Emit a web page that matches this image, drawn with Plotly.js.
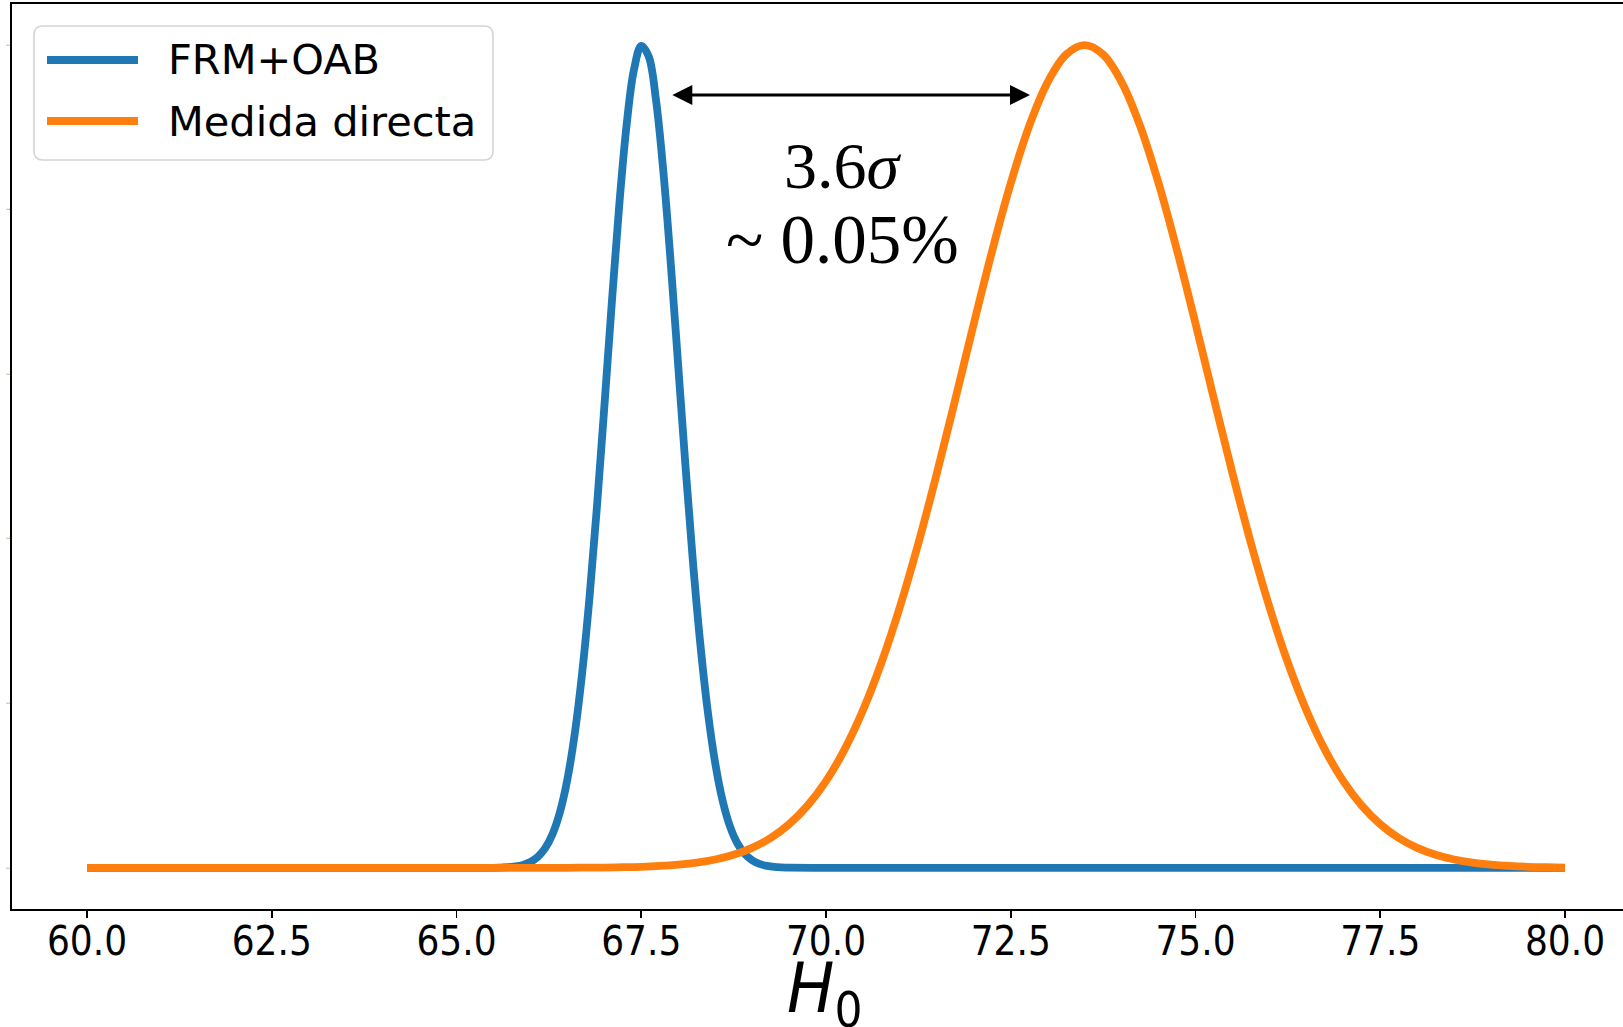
<!DOCTYPE html>
<html><head><meta charset="utf-8">
<script src="https://cdn.plot.ly/plotly-3.0.1.min.js"></script>
<style>html,body{margin:0;padding:0;background:#fff;} #chart{width:1623px;height:1027px;}</style>
</head><body><div id="chart"></div>
<script>
// ---------- data ----------
const seriesNames = ['FRM+OAB', 'Medida directa'];
const seriesColors = ['#1f77b4', '#ff7f0e'];

const frmX = [60, 65, 65.5,
  65.6, 65.7, 65.8, 65.9, 66.0, 66.1, 66.2, 66.3, 66.4, 66.5,
  66.6, 66.7, 66.8, 66.9, 67.0, 67.1, 67.2, 67.3, 67.4, 67.5,
  67.6, 67.7, 67.8, 67.9, 68.0, 68.1, 68.2, 68.3, 68.4, 68.5,
  68.6, 68.7, 68.8, 68.9, 69.0, 69.1, 69.2, 69.3, 69.4, 69.5,
  70, 80];
const frmY = [0, 0, 0.0001,
  0.0004, 0.0008, 0.0018, 0.0036, 0.0071, 0.0133, 0.0239, 0.0412, 0.0679, 0.1075,
  0.163, 0.2367, 0.329, 0.4386, 0.560, 0.685, 0.803, 0.9015, 0.9696, 0.9991,
  0.9864, 0.933, 0.8454, 0.7338, 0.6103, 0.4863, 0.3712, 0.2715, 0.1902, 0.1277,
  0.0821, 0.0506, 0.0299, 0.0169, 0.0092, 0.0048, 0.0024, 0.0011, 0.0005, 0.0002,
  0, 0];

const directX = [60, 62, 64, 65, 65.5, 66, 66.5, 67,
  67.25, 67.5, 67.75, 68, 68.25, 68.5, 68.75, 69, 69.25, 69.5, 69.75, 70,
  70.25, 70.5, 70.75, 71, 71.25, 71.5, 71.75, 72, 72.25, 72.5, 72.75, 73,
  73.25, 73.5, 73.75, 74, 74.25, 74.5, 74.75, 75, 75.25, 75.5, 75.75, 76,
  76.25, 76.5, 76.75, 77, 77.25, 77.5, 77.75, 78, 78.25, 78.5, 78.75, 79,
  79.25, 79.5, 79.75, 80];
const directY = [0, 0, 0, 0, 0, 0, 0.0001, 0.0004,
  0.0008, 0.0013, 0.0023, 0.0039, 0.0063, 0.0101, 0.0159, 0.0243, 0.0363, 0.0530, 0.0756, 0.1054,
  0.1437, 0.1915, 0.2494, 0.3173, 0.3946, 0.4797, 0.5698, 0.6615, 0.7505, 0.8322, 0.9019, 0.9551,
  0.9886, 1.0, 0.9886, 0.9551, 0.9019, 0.8322, 0.7505, 0.6615, 0.5698, 0.4797, 0.3946, 0.3173,
  0.2494, 0.1915, 0.1437, 0.1054, 0.0756, 0.0530, 0.0363, 0.0243, 0.0159, 0.0101, 0.0063, 0.0039,
  0.0023, 0.0013, 0.0008, 0.0004];

const xTickVals = [60, 62.5, 65, 67.5, 70, 72.5, 75, 77.5, 80];
const xTickText = ['60.0', '62.5', '65.0', '67.5', '70.0', '72.5', '75.0', '77.5', '80.0'];
const yTickVals = [0, 0.2, 0.4, 0.6, 0.8, 1.0];
const yTickText = ['0.0', '0.2', '0.4', '0.6', '0.8', '1.0'];

const arrowStartX = 67.90, arrowEndX = 72.76, arrowY = 0.9394;
const noteLines = ['3.6<i>σ</i>', '~ 0.05%'];
const xAxisLabel = '<i>H</i><sub>0</sub>';

// ---------- geometry ----------
const W = 1623, H = 1027;
const ML = 12, MT = 4, MB = 118, MR = 0;
const PW = W - ML - MR, PH = H - MT - MB;
const px = v => (v - ML) / PW;          // pixel x -> paper
const py = v => (H - MB - v) / PH;      // pixel y -> paper

function roundRectPath(x0, y0, x1, y1, r) {
  const rx = r / PW, ry = r / PH;
  const a = px(x0), b = px(x1), c = py(y0), d = py(y1);
  return `M${a + rx},${c} L${b - rx},${c} Q${b},${c} ${b},${c - ry} ` +
         `L${b},${d + ry} Q${b},${d} ${b - rx},${d} L${a + rx},${d} ` +
         `Q${a},${d} ${a},${d + ry} L${a},${c - ry} Q${a},${c} ${a + rx},${c} Z`;
}

const LW = 7.8;
const traces = [
  {x: frmX, y: frmY, name: seriesNames[0], type: 'scatter', mode: 'lines',
   line: {color: seriesColors[0], width: LW, shape: 'spline', smoothing: 1}},
  {x: directX, y: directY, name: seriesNames[1], type: 'scatter', mode: 'lines',
   line: {color: seriesColors[1], width: LW, shape: 'spline', smoothing: 1}}
];

const legendRows = [60, 121];
const shapes = [
  {type: 'path', xref: 'paper', yref: 'paper', path: roundRectPath(34, 26, 493, 160, 9),
   fillcolor: 'rgba(255,255,255,0.8)', line: {color: '#d4d4d4', width: 1.6}, layer: 'above'}
];
const annotations = [];
seriesNames.forEach((n, i) => {
  shapes.push({type: 'line', xref: 'paper', yref: 'paper', x0: px(47), x1: px(138),
    y0: py(legendRows[i]), y1: py(legendRows[i]), line: {color: seriesColors[i], width: LW}, layer: 'above'});
  annotations.push({xref: 'paper', yref: 'paper', x: px(166), y: py(legendRows[i]),
    xanchor: 'left', yanchor: 'middle', showarrow: false, text: n,
    font: {family: 'DejaVu Sans', size: 41.5, color: '#000'}});
});

annotations.push({x: arrowEndX, y: arrowY, ax: arrowStartX, ay: arrowY, xref: 'x', yref: 'y',
  axref: 'x', ayref: 'y', text: '', showarrow: true, arrowhead: 2, startarrowhead: 2,
  arrowside: 'end+start', arrowwidth: 3.2, arrowsize: 1.25, startarrowsize: 1.25,
  arrowcolor: '#000', standoff: 0, startstandoff: 0});
annotations.push({xref: 'paper', yref: 'paper', x: px(843), y: py(165), xanchor: 'center', yanchor: 'middle',
  showarrow: false, text: noteLines[0], font: {family: 'Liberation Serif', size: 66, color: '#000'}});
annotations.push({xref: 'paper', yref: 'paper', x: px(843), y: py(240), xanchor: 'center', yanchor: 'middle',
  showarrow: false, text: noteLines[1], font: {family: 'Liberation Serif', size: 69, color: '#000'}});
// x-axis label, placed under the axis at its centre
annotations.push({xref: 'paper', yref: 'paper', x: px(824), y: py(993), xanchor: 'center', yanchor: 'middle',
  showarrow: false, text: xAxisLabel,
  font: {family: 'DejaVu Sans Condensed, DejaVu Sans', size: 70, color: '#000'}});

const layout = {
  width: W, height: H,
  margin: {l: ML, r: MR, t: MT, b: MB, pad: 0},
  paper_bgcolor: '#fff', plot_bgcolor: '#fff',
  showlegend: false,
  xaxis: {
    range: [58.985, 58.985 + PW / 73.9],
    tickvals: xTickVals, ticktext: xTickText,
    ticks: 'outside', ticklen: 7, tickwidth: 1.6, tickcolor: '#000',
    ticklabelstandoff: -11,
    showline: true, linecolor: '#000', linewidth: 1.8, mirror: true,
    showgrid: false, zeroline: false,
    tickfont: {family: 'DejaVu Sans Condensed, DejaVu Sans', size: 40, color: '#000'}
  },
  yaxis: {
    range: [-0.05, 1.05],
    tickvals: yTickVals, ticktext: yTickText,
    ticks: '', showline: true, linecolor: '#000', linewidth: 1.8, mirror: false,
    showgrid: false, zeroline: false,
    tickfont: {family: 'DejaVu Sans', size: 2, color: '#000'}
  },
  shapes: shapes,
  annotations: annotations
};

Plotly.newPlot('chart', traces, layout, {displayModeBar: false, staticPlot: true});
</script>
</body></html>
